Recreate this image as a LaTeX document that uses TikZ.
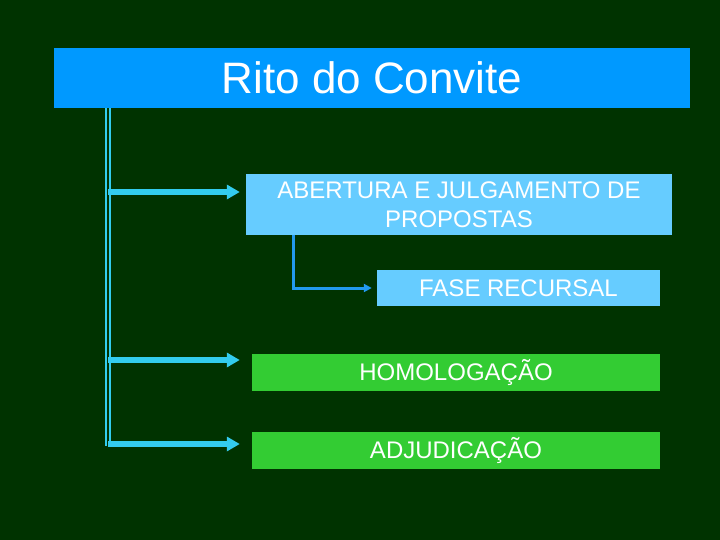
\documentclass[tikz,border=0pt]{standalone}
\usepackage{fontspec}
\setmainfont{Liberation Sans}
\usetikzlibrary{arrows.meta}
\definecolor{bg}{RGB}{0,51,0}
\definecolor{titleblue}{RGB}{0,153,255}
\definecolor{lightblue}{RGB}{102,204,255}
\definecolor{boxgreen}{RGB}{51,204,51}
\definecolor{arrowcyan}{RGB}{51,204,238}
\definecolor{elbowblue}{RGB}{34,153,238}
\begin{document}
\begin{tikzpicture}[x=1pt,y=-1pt,
  box/.style={inner sep=0pt, text=white, font=\fontsize{24}{29}\selectfont, align=center},
  bluebox/.style={box, fill=lightblue},
  greenbox/.style={box, fill=boxgreen},
  trunk/.style={draw=arrowcyan, line width=1.7pt, double=bg, double distance=2.6pt},
  bigarrow/.style={draw=arrowcyan, line width=6.7pt, -{Triangle[length=13pt,width=14pt]}},
  elbow/.style={draw=elbowblue, line width=3pt, -{Triangle[length=8pt,width=8pt]}}]
\fill[bg] (0,0) rectangle (720,540);
\useasboundingbox (0,0) rectangle (720,540);
\node[fill=titleblue, minimum width=636pt, minimum height=60pt, inner sep=0pt, text=white,
  font=\fontsize{44}{50}\selectfont] (title) at (372,78) {Rito do Convite};
\node[bluebox, minimum width=426pt, minimum height=60pt] (ab) at (459,204.5)
  {ABERTURA E JULGAMENTO DE\\PROPOSTAS};
\node[bluebox, minimum width=283pt, minimum height=36pt] (fase) at (518.5,288) {FASE RECURSAL};
\node[greenbox, minimum width=408pt, minimum height=37pt] (hom) at (456,372.5) {HOMOLOGAÇÃO};
\node[greenbox, minimum width=408pt, minimum height=37pt] (adj) at (456,450.5) {ADJUDICAÇÃO};
\coordinate (t1) at (108,192);
\coordinate (t2) at (108,360);
\coordinate (t3) at (108,444);
\coordinate (tend) at (108,445.5);
\draw[trunk] (title.south -| t1) -- (tend);
\draw[bigarrow, shorten >=6pt] (t1) -- (ab.west |- t1);
\draw[bigarrow, shorten >=12pt] (t2) -- (hom.west |- t2);
\draw[bigarrow, shorten >=12pt] (t3) -- (adj.west |- t3);
\draw[elbow, shorten >=5pt] (ab.south -| 293,0) -- (293,288) -- (fase.west);
\end{tikzpicture}
\end{document}
